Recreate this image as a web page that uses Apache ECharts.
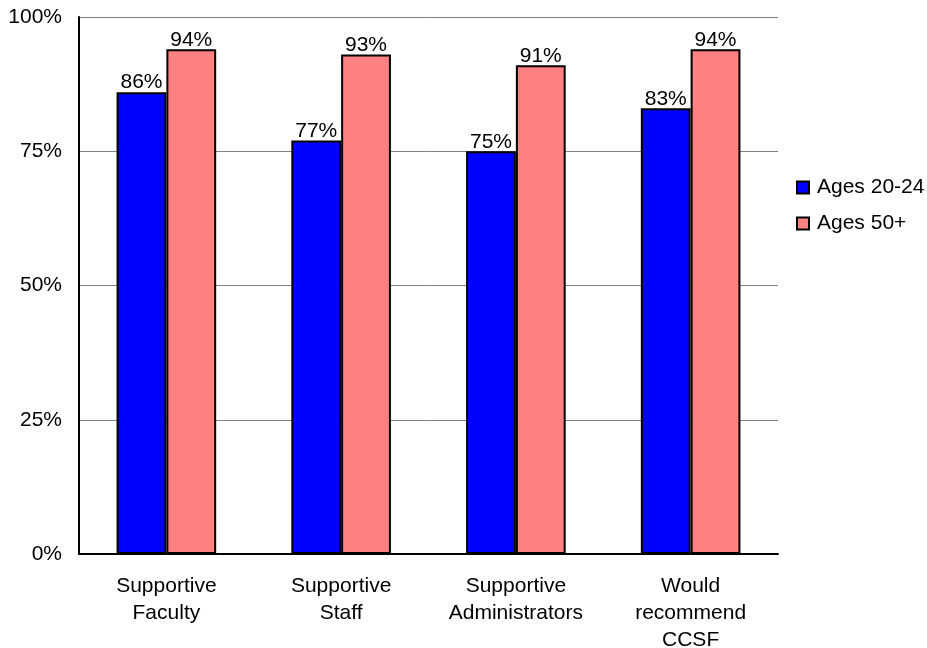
<!DOCTYPE html>
<html>
<head>
<meta charset="utf-8">
<script src="https://cdn.jsdelivr.net/npm/echarts@6/dist/echarts.min.js"></script>
<style>
  html, body { margin: 0; padding: 0; background: #fff; }
  #chart { width: 927px; height: 648px; }
</style>
</head>
<body>
<div id="chart"></div>
<script>
// Survey measures and the share of agreeing students in each age group
const categories = ['Supportive\nFaculty', 'Supportive\nStaff', 'Supportive\nAdministrators', 'Would\nrecommend\nCCSF'];
const ages20to24 = [86, 77, 75, 83];
const ages50plus = [94, 93, 91, 94];
const seriesNames = ['Ages 20-24', 'Ages 50+'];
const yTicks = [0, 25, 50, 75, 100];

const FONT = '"Liberation Sans", Arial, sans-serif';
const FS = 21;

const chart = echarts.init(document.getElementById('chart'));

function barSeries(name, data, color) {
  return {
    name: name,
    type: 'bar',
    data: data,
    barGap: '0%',
    barCategoryGap: '43%',
    itemStyle: { color: color, borderColor: '#000', borderWidth: 2 },
    label: {
      show: true,
      position: 'top',
      distance: -1,
      formatter: '{c}%',
      color: '#000',
      fontFamily: FONT,
      fontSize: FS
    }
  };
}

chart.setOption({
  animation: false,
  backgroundColor: '#fff',
  grid: {
    left: 79, top: 17, width: 699, height: 537,
    containLabel: false,
    outerBoundsMode: 'none'
  },
  legend: {
    orient: 'vertical',
    left: 796,
    top: 177,
    padding: 0,
    itemWidth: 12,
    itemHeight: 12,
    itemGap: 15,
    icon: 'rect',
    textStyle: { fontFamily: FONT, fontSize: FS, lineHeight: 21, color: '#000', padding: [0, 0, 0, 3] },
    itemStyle: { borderColor: '#000', borderWidth: 2 },
    data: seriesNames
  },
  xAxis: {
    type: 'category',
    data: categories,
    axisLine: { lineStyle: { color: '#000', width: 2 } },
    axisTick: { show: false },
    axisLabel: {
      color: '#000',
      fontFamily: FONT,
      fontSize: FS,
      lineHeight: 27,
      margin: 19,
      interval: 0
    }
  },
  yAxis: {
    type: 'value',
    min: yTicks[0],
    max: yTicks[yTicks.length - 1],
    interval: 25,
    axisLine: { show: true, lineStyle: { color: '#000', width: 2 } },
    axisTick: { show: false },
    splitLine: { lineStyle: { color: '#808080', width: 1 } },
    axisLabel: {
      color: '#000',
      fontFamily: FONT,
      fontSize: FS,
      margin: 17,
      formatter: '{value}%'
    }
  },
  series: [
    barSeries(seriesNames[0], ages20to24, '#0000ff'),
    barSeries(seriesNames[1], ages50plus, '#ff8080')
  ]
});
</script>
</body>
</html>
